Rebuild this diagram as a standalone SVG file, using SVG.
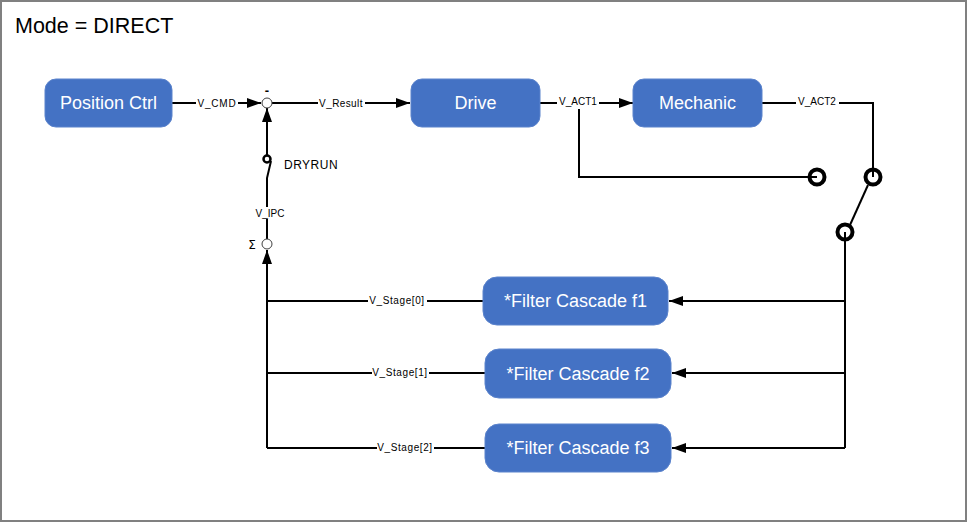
<svg xmlns="http://www.w3.org/2000/svg" width="969" height="523" viewBox="0 0 969 523">
<defs>
<style>
.box{fill:#4472C4;stroke:#5b83cc;stroke-width:1}
.nt{font-family:"Liberation Sans",Arial,sans-serif;font-size:18px;fill:#ffffff;text-anchor:middle;dominant-baseline:central}
.ln{fill:none;stroke:#000;stroke-width:2}
.sw{fill:none;stroke:#000;stroke-width:4}
.lb{font-family:"Liberation Sans",Arial,sans-serif;font-size:10px;fill:#000;text-anchor:middle;dominant-baseline:central}
.bg{fill:#fff}
.sum{fill:#fff;stroke:#404040;stroke-width:1}
</style>
<marker id="ar" markerUnits="userSpaceOnUse" markerWidth="14" markerHeight="10" refX="14" refY="5" orient="auto">
<path d="M0,0 L14,5 L0,10 z" fill="#000"/>
</marker>
</defs>
<rect x="1" y="1" width="965" height="520" fill="#fff" stroke="#808080" stroke-width="2"/>
<text x="15" y="33" font-family="Liberation Sans, Arial, sans-serif" font-size="21.5" fill="#000">Mode = DIRECT</text>

<g id="connectors">
<path class="ln" d="M172,103 L261,103" marker-end="url(#ar)"/>
<path class="ln" d="M272,103 L410,103" marker-end="url(#ar)"/>
<path class="ln" d="M267,155 L267,108" marker-end="url(#ar)"/>
<path class="ln" d="M271,161 L267,178 L267,239"/>
<path class="ln" d="M267,448 L267,250" marker-end="url(#ar)"/>
<path class="ln" d="M267,301 L483,301 M267,373 L485,373 M267,448 L485,448"/>
<path class="ln" d="M540,103 L633,103" marker-end="url(#ar)"/>
<path class="ln" d="M579,103 L579,177 L817,177"/>
<path class="ln" d="M762,103 L873,103 L873,177"/>
<path class="ln" d="M868,185 L850,225" stroke-width="2.5"/>
<path class="ln" d="M845,232 L845,448"/>
<path class="ln" d="M845,301 L669,301" marker-end="url(#ar)"/>
<path class="ln" d="M845,373 L672,373" marker-end="url(#ar)"/>
<path class="ln" d="M845,448 L672,448" marker-end="url(#ar)"/>
<circle class="sw" cx="817" cy="177" r="7.5"/>
<circle class="sw" cx="873" cy="177" r="7.5"/>
<circle class="sw" cx="845" cy="232" r="7.5"/>
<circle cx="267" cy="159" r="3.5" fill="none" stroke="#000" stroke-width="2.5"/>
<rect class="bg" x="196" y="97" width="42" height="12"/>
<text class="lb" x="217" y="103" letter-spacing="0.8">V_CMD</text>
<rect class="bg" x="318" y="97" width="47" height="12"/>
<text class="lb" x="341" y="103" font-size="10.5" letter-spacing="0.4">V_Result</text>
<rect class="bg" x="557" y="97" width="42" height="12"/>
<text class="lb" x="578" y="101">V_ACT1</text>
<rect class="bg" x="796" y="97" width="43" height="12"/>
<text class="lb" x="817" y="101">V_ACT2</text>
<rect class="bg" x="254" y="207" width="33" height="12"/>
<text class="lb" x="270" y="213" font-size="10.5">V_IPC</text>
<rect class="bg" x="368" y="295" width="59" height="12"/>
<text class="lb" x="397" y="300" letter-spacing="0.6">V_Stage[0]</text>
<rect class="bg" x="372" y="367" width="57" height="12"/>
<text class="lb" x="400" y="372" letter-spacing="0.6">V_Stage[1]</text>
<rect class="bg" x="377" y="442" width="57" height="12"/>
<text class="lb" x="405" y="447" letter-spacing="0.6">V_Stage[2]</text>
<text x="284" y="169" font-family="Liberation Sans, Arial, sans-serif" font-size="12" letter-spacing="0.5" fill="#000">DRYRUN</text>
</g>

<g id="sum1">
<circle class="sum" cx="267" cy="103" r="5"/>
<text x="267" y="95" font-family="Liberation Sans, Arial, sans-serif" font-size="13" font-weight="bold" text-anchor="middle" fill="#000">-</text>
</g>
<g id="sum2">
<circle class="sum" cx="267" cy="244" r="5"/>
<text x="252" y="249" font-family="DejaVu Sans, sans-serif" font-size="12" text-anchor="middle" fill="#000">Σ</text>
</g>

<g id="position-ctrl">
<rect class="box" x="45" y="79" width="127" height="48" rx="11"/>
<text class="nt" x="108.5" y="103">Position Ctrl</text>
</g>
<g id="drive">
<rect class="box" x="411" y="79" width="129" height="48" rx="11"/>
<text class="nt" x="475.5" y="103">Drive</text>
</g>
<g id="mechanic">
<rect class="box" x="633" y="79" width="129" height="48" rx="11"/>
<text class="nt" x="697.5" y="103">Mechanic</text>
</g>
<g id="filter-f1">
<rect class="box" x="483" y="277" width="185" height="48" rx="14"/>
<text class="nt" x="575.5" y="301">*Filter Cascade f1</text>
</g>
<g id="filter-f2">
<rect class="box" x="485" y="349" width="186" height="49" rx="14"/>
<text class="nt" x="578" y="373.5">*Filter Cascade f2</text>
</g>
<g id="filter-f3">
<rect class="box" x="485" y="424" width="186" height="48" rx="14"/>
<text class="nt" x="578" y="448">*Filter Cascade f3</text>
</g>
</svg>
